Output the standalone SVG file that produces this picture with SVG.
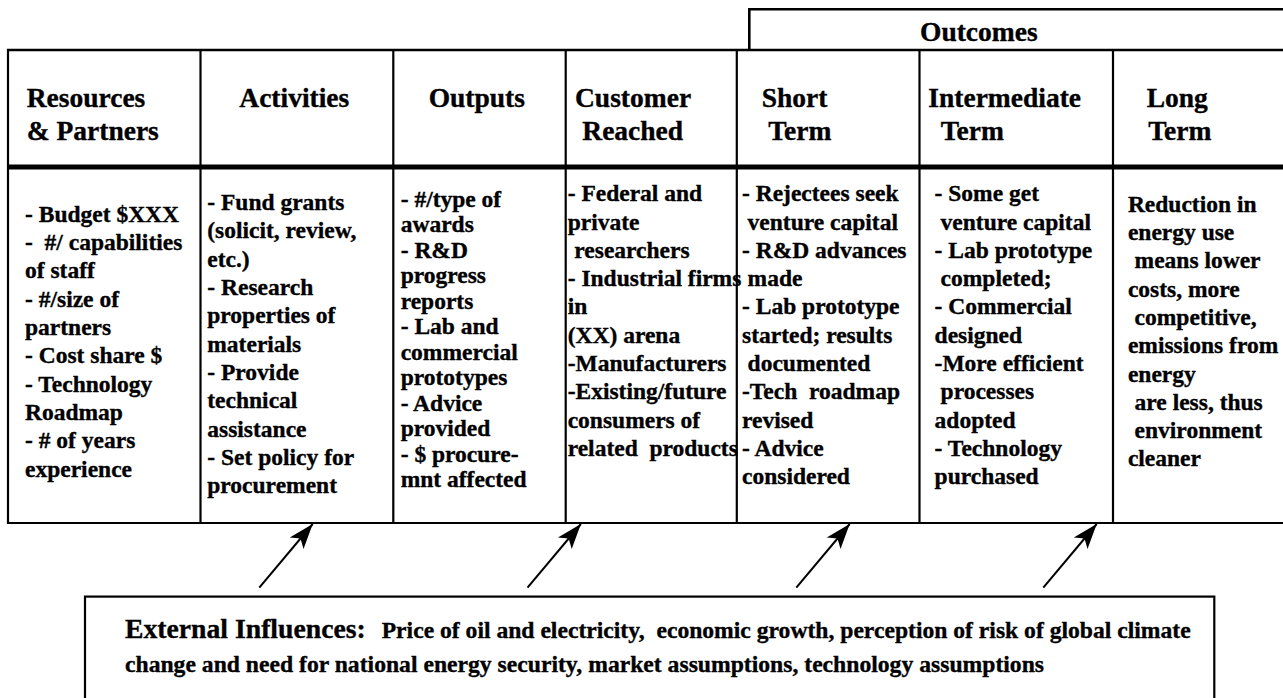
<svg xmlns="http://www.w3.org/2000/svg" width="1283" height="698" viewBox="0 0 1283 698">
<style>
text{font-family:'Liberation Serif','Times New Roman',serif;font-weight:700;fill:#000;stroke:#000;stroke-width:0.35px;white-space:pre}
.hdr{font-size:27.5px}
.bd{font-size:23.5px}
.ext{font-size:27.7px}
.ln{stroke:#000;fill:none}
.arr{stroke:#000;stroke-width:2;fill:none;marker-end:url(#ah)}
</style>
<defs>
<marker id="ah" markerUnits="userSpaceOnUse" viewBox="-27 -11 29 22" markerWidth="29" markerHeight="22" refX="0" refY="0" orient="auto">
<path d="M0,0 L-25,-9 L-19,0 L-25,9 Z" fill="#000"/>
</marker>
</defs>
<rect x="0" y="0" width="1283" height="698" fill="#fff"/>
<g id="table-frame">
<path class="ln" stroke-width="2.6" d="M749.3,50 V9.3 H1290"/>
<line class="ln" stroke-width="2.6" x1="7" y1="50" x2="1290" y2="50"/>
<line class="ln" stroke-width="5" x1="7" y1="167" x2="1290" y2="167"/>
<line class="ln" stroke-width="2.2" x1="7" y1="523" x2="1290" y2="523"/>
<line class="ln" stroke-width="2.2" x1="8" y1="49" x2="8" y2="524"/>
<line class="ln" stroke-width="2.2" x1="200.5" y1="50" x2="200.5" y2="523"/>
<line class="ln" stroke-width="2.2" x1="393.3" y1="50" x2="393.3" y2="523"/>
<line class="ln" stroke-width="2.2" x1="565.7" y1="50" x2="565.7" y2="523"/>
<line class="ln" stroke-width="2.2" x1="736.8" y1="50" x2="736.8" y2="523"/>
<line class="ln" stroke-width="2.2" x1="919.5" y1="50" x2="919.5" y2="523"/>
<line class="ln" stroke-width="2.2" x1="1113" y1="50" x2="1113" y2="523"/>
</g>
<g id="outcomes-label">
<text class="hdr" x="920" y="40.7">Outcomes</text>
</g>
<g id="col-resources">
<text class="hdr" x="26.7" y="106.7">Resources</text>
<text class="hdr" x="26.7" y="140">&amp; Partners</text>
<text class="bd" x="25" y="221.7">- Budget $XXX</text>
<text class="bd" x="25" y="250">-  #/ capabilities</text>
<text class="bd" x="25" y="278.3">of staff</text>
<text class="bd" x="25" y="306.7">- #/size of</text>
<text class="bd" x="25" y="335">partners</text>
<text class="bd" x="25" y="363.3">- Cost share $</text>
<text class="bd" x="25" y="391.7">- Technology</text>
<text class="bd" x="25" y="420">Roadmap</text>
<text class="bd" x="25" y="448.3">- # of years</text>
<text class="bd" x="25" y="476.7">experience</text>
</g>
<g id="col-activities">
<text class="hdr" x="239.3" y="106.7">Activities</text>
<text class="bd" x="207.3" y="210">- Fund grants</text>
<text class="bd" x="207.3" y="238.3">(solicit, review,</text>
<text class="bd" x="207.3" y="266.7">etc.)</text>
<text class="bd" x="207.3" y="295">- Research</text>
<text class="bd" x="207.3" y="323.3">properties of</text>
<text class="bd" x="207.3" y="351.7">materials</text>
<text class="bd" x="207.3" y="380">- Provide</text>
<text class="bd" x="207.3" y="408.3">technical</text>
<text class="bd" x="207.3" y="436.7">assistance</text>
<text class="bd" x="207.3" y="465">- Set policy for</text>
<text class="bd" x="207.3" y="493.3">procurement</text>
</g>
<g id="col-outputs">
<text class="hdr" x="428.7" y="106.7">Outputs</text>
<text class="bd" x="400.7" y="206.7">- #/type of</text>
<text class="bd" x="400.7" y="232.2">awards</text>
<text class="bd" x="400.7" y="257.7">- R&amp;D</text>
<text class="bd" x="400.7" y="283.2">progress</text>
<text class="bd" x="400.7" y="308.7">reports</text>
<text class="bd" x="400.7" y="334.2">- Lab and</text>
<text class="bd" x="400.7" y="359.7">commercial</text>
<text class="bd" x="400.7" y="385.2">prototypes</text>
<text class="bd" x="400.7" y="410.7">- Advice</text>
<text class="bd" x="400.7" y="436.2">provided</text>
<text class="bd" x="400.7" y="461.7">- $ procure-</text>
<text class="bd" x="400.7" y="487.2">mnt affected</text>
</g>
<g id="col-customer">
<text class="hdr" x="575" y="106.7">Customer</text>
<text class="hdr" x="582.3" y="140">Reached</text>
<text class="bd" x="567.7" y="201.2">- Federal and</text>
<text class="bd" x="567.7" y="229.5">private</text>
<text class="bd" x="574.3" y="257.8">researchers</text>
<text class="bd" x="567.7" y="286.1">- Industrial firms</text>
<text class="bd" x="567.7" y="314.4">in</text>
<text class="bd" x="567.7" y="342.7">(XX) arena</text>
<text class="bd" x="567.7" y="371">-Manufacturers</text>
<text class="bd" x="567.7" y="399.3">-Existing/future</text>
<text class="bd" x="567.7" y="427.6">consumers of</text>
<text class="bd" x="567.7" y="455.9">related  products</text>
</g>
<g id="col-short">
<text class="hdr" x="761.7" y="106.7">Short</text>
<text class="hdr" x="768.3" y="140">Term</text>
<text class="bd" x="742" y="201.2">- Rejectees seek</text>
<text class="bd" x="747.6" y="229.5">venture capital</text>
<text class="bd" x="742" y="257.8">- R&amp;D advances</text>
<text class="bd" x="747.6" y="286.1">made</text>
<text class="bd" x="742" y="314.4">- Lab prototype</text>
<text class="bd" x="742" y="342.7">started; results</text>
<text class="bd" x="747.6" y="371">documented</text>
<text class="bd" x="742" y="399.3">-Tech  roadmap</text>
<text class="bd" x="742" y="427.6">revised</text>
<text class="bd" x="742" y="455.9">- Advice</text>
<text class="bd" x="742" y="484.2">considered</text>
</g>
<g id="col-intermediate">
<text class="hdr" x="928.3" y="106.7">Intermediate</text>
<text class="hdr" x="940.7" y="140">Term</text>
<text class="bd" x="934.6" y="201.2">- Some get</text>
<text class="bd" x="940.6" y="229.5">venture capital</text>
<text class="bd" x="934.6" y="257.8">- Lab prototype</text>
<text class="bd" x="940.6" y="286.1">completed;</text>
<text class="bd" x="934.6" y="314.4">- Commercial</text>
<text class="bd" x="934.6" y="342.7">designed</text>
<text class="bd" x="934.6" y="371">-More efficient</text>
<text class="bd" x="940.6" y="399.3">processes</text>
<text class="bd" x="934.6" y="427.6">adopted</text>
<text class="bd" x="934.6" y="455.9">- Technology</text>
<text class="bd" x="934.6" y="484.2">purchased</text>
</g>
<g id="col-long">
<text class="hdr" x="1146.7" y="106.7">Long</text>
<text class="hdr" x="1148.3" y="140">Term</text>
<text class="bd" x="1127.9" y="211.7">Reduction in</text>
<text class="bd" x="1127.9" y="240">energy use</text>
<text class="bd" x="1134.6" y="268.3">means lower</text>
<text class="bd" x="1127.9" y="296.6">costs, more</text>
<text class="bd" x="1134.6" y="324.9">competitive,</text>
<text class="bd" x="1127.9" y="353.2">emissions from</text>
<text class="bd" x="1127.9" y="381.5">energy</text>
<text class="bd" x="1134.6" y="409.8">are less, thus</text>
<text class="bd" x="1134.6" y="438.1">environment</text>
<text class="bd" x="1127.9" y="466.4">cleaner</text>
</g>
<g id="external-influences">
<rect class="ln" stroke-width="2.2" x="85" y="596.6" width="1129.3" height="120"/>
<text class="ext" x="125" y="638.3">External Influences:</text>
<text class="bd" x="381.7" y="638.3" textLength="809" lengthAdjust="spacingAndGlyphs">Price of oil and electricity,  economic growth, perception of risk of global climate</text>
<text class="bd" x="125" y="671.7" textLength="919" lengthAdjust="spacingAndGlyphs">change and need for national energy security, market assumptions, technology assumptions</text>
</g>
<g id="connectors">
<line class="arr" x1="259.3" y1="587.7" x2="312.7" y2="524"/>
<line class="arr" x1="527.5" y1="587.7" x2="580.9" y2="524"/>
<line class="arr" x1="796.3" y1="587.7" x2="849.7" y2="524"/>
<line class="arr" x1="1043.3" y1="587.7" x2="1096.7" y2="524"/>
</g>
</svg>
